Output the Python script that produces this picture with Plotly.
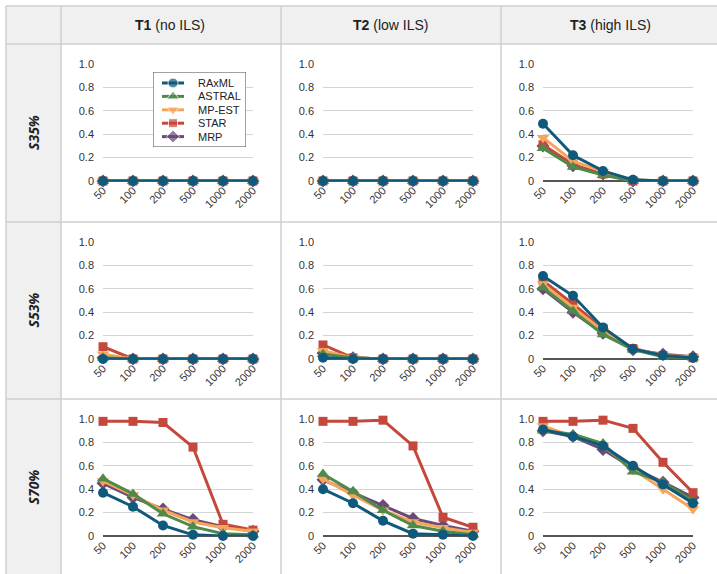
import plotly.graph_objects as go

# ---------------- data ----------------
genes = ["50", "100", "200", "500", "1000", "2000"]
methods = ["RAxML", "ASTRAL", "MP-EST", "STAR", "MRP"]
col_titles = ["T1", "T2", "T3"]
col_sub = ["no ILS", "low ILS", "high ILS"]
row_titles = ["S35%", "S53%", "S70%"]

# S35%
s35_t1_raxml = [0, 0, 0, 0, 0, 0]
s35_t1_astral = [0, 0, 0, 0, 0, 0]
s35_t1_mpest = [0, 0, 0, 0, 0, 0]
s35_t1_star = [0, 0, 0, 0, 0, 0]
s35_t1_mrp = [0, 0, 0, 0, 0, 0]

s35_t2_raxml = [0, 0, 0, 0, 0, 0]
s35_t2_astral = [0, 0, 0, 0, 0, 0]
s35_t2_mpest = [0, 0, 0, 0, 0, 0]
s35_t2_star = [0, 0, 0, 0, 0, 0]
s35_t2_mrp = [0, 0, 0, 0, 0, 0]

s35_t3_raxml = [0.49, 0.22, 0.086, 0.01, 0, 0]
s35_t3_astral = [0.28, 0.12, 0.05, 0, 0, 0]
s35_t3_mpest = [0.37, 0.17, 0.08, 0.01, 0, 0]
s35_t3_star = [0.31, 0.14, 0.06, 0, 0, 0]
s35_t3_mrp = [0.30, 0.13, 0.06, 0, 0, 0]

# S53%
s53_t1_raxml = [0, 0, 0, 0, 0, 0]
s53_t1_astral = [0.01, 0, 0, 0, 0, 0]
s53_t1_mpest = [0.04, 0, 0, 0, 0, 0]
s53_t1_star = [0.105, 0, 0, 0, 0, 0]
s53_t1_mrp = [0.01, 0, 0, 0, 0, 0]

s53_t2_raxml = [0.01, 0, 0, 0, 0, 0]
s53_t2_astral = [0.04, 0.01, 0, 0, 0, 0]
s53_t2_mpest = [0.07, 0.01, 0, 0, 0, 0]
s53_t2_star = [0.12, 0.01, 0, 0, 0, 0]
s53_t2_mrp = [0.05, 0.01, 0, 0, 0, 0]

s53_t3_raxml = [0.71, 0.54, 0.27, 0.086, 0.03, 0.01]
s53_t3_astral = [0.61, 0.41, 0.21, 0.08, 0.02, 0.01]
s53_t3_mpest = [0.64, 0.44, 0.24, 0.09, 0.03, 0.02]
s53_t3_star = [0.67, 0.47, 0.26, 0.09, 0.03, 0.01]
s53_t3_mrp = [0.60, 0.40, 0.22, 0.08, 0.04, 0.02]

# S70%
s70_t1_raxml = [0.37, 0.25, 0.09, 0.01, 0, 0]
s70_t1_astral = [0.49, 0.36, 0.19, 0.08, 0.02, 0.01]
s70_t1_mpest = [0.47, 0.35, 0.22, 0.12, 0.07, 0.04]
s70_t1_star = [0.98, 0.98, 0.97, 0.76, 0.10, 0.05]
s70_t1_mrp = [0.45, 0.33, 0.23, 0.14, 0.08, 0.04]

s70_t2_raxml = [0.40, 0.28, 0.13, 0.02, 0.01, 0]
s70_t2_astral = [0.53, 0.38, 0.22, 0.09, 0.04, 0.01]
s70_t2_mpest = [0.49, 0.35, 0.22, 0.12, 0.07, 0.03]
s70_t2_star = [0.98, 0.98, 0.99, 0.77, 0.16, 0.075]
s70_t2_mrp = [0.48, 0.37, 0.26, 0.15, 0.09, 0.04]

s70_t3_raxml = [0.91, 0.85, 0.77, 0.60, 0.44, 0.28]
s70_t3_astral = [0.90, 0.87, 0.79, 0.55, 0.46, 0.30]
s70_t3_mpest = [0.94, 0.85, 0.77, 0.57, 0.40, 0.23]
s70_t3_star = [0.98, 0.98, 0.99, 0.92, 0.63, 0.37]
s70_t3_mrp = [0.90, 0.85, 0.74, 0.58, 0.46, 0.33]

grid_data = [
    [[s35_t1_raxml, s35_t1_astral, s35_t1_mpest, s35_t1_star, s35_t1_mrp],
     [s35_t2_raxml, s35_t2_astral, s35_t2_mpest, s35_t2_star, s35_t2_mrp],
     [s35_t3_raxml, s35_t3_astral, s35_t3_mpest, s35_t3_star, s35_t3_mrp]],
    [[s53_t1_raxml, s53_t1_astral, s53_t1_mpest, s53_t1_star, s53_t1_mrp],
     [s53_t2_raxml, s53_t2_astral, s53_t2_mpest, s53_t2_star, s53_t2_mrp],
     [s53_t3_raxml, s53_t3_astral, s53_t3_mpest, s53_t3_star, s53_t3_mrp]],
    [[s70_t1_raxml, s70_t1_astral, s70_t1_mpest, s70_t1_star, s70_t1_mrp],
     [s70_t2_raxml, s70_t2_astral, s70_t2_mpest, s70_t2_star, s70_t2_mrp],
     [s70_t3_raxml, s70_t3_astral, s70_t3_mpest, s70_t3_star, s70_t3_mrp]],
]

y_ticks = [0, 0.2, 0.4, 0.6, 0.8, 1.0]
y_tick_text = ["0", "0.2", "0.4", "0.6", "0.8", "1.0"]

# ---------------- styles ----------------
colors = ["#0f5a7c", "#4f8a4a", "#f7a55c", "#c4483b", "#6b4b76"]
symbols = ["circle", "triangle-up", "triangle-down", "square", "diamond"]
msizes = [10, 11, 11, 9, 10]

W, H = 717, 574
col_x = [61, 281, 501, 721]
row_y = [44, 222, 399, 576]
TOP = 6
LEFT = 6


def px(x):
    return x / W


def py(y):
    return 1 - y / H


fig = go.Figure()
font_fam = "Liberation Sans, Arial, sans-serif"

for r in range(3):
    for c in range(3):
        idx = r * 3 + c + 1
        xa = "x" if idx == 1 else f"x{idx}"
        ya = "y" if idx == 1 else f"y{idx}"
        series = grid_data[r][c]
        for m in reversed(range(5)):
            fig.add_trace(go.Scatter(
                x=genes, y=series[m], name=methods[m],
                mode="lines+markers",
                line=dict(color=colors[m], width=3),
                marker=dict(color=colors[m], symbol=symbols[m], size=msizes[m]),
                cliponaxis=False, showlegend=False,
                xaxis=xa, yaxis=ya,
            ))
        x0 = col_x[c] + 42
        x1 = col_x[c] + 192
        ytop = row_y[r] + 20
        ybot = row_y[r] + 137
        fig.layout["xaxis" if idx == 1 else f"xaxis{idx}"] = dict(
            domain=[px(x0), px(x1)], anchor=ya, type="category",
            range=[0, 5], tickangle=-45, showgrid=False, showline=False,
            ticks="", automargin=False,
            tickfont=dict(size=11, color="#333", family=font_fam),
            fixedrange=True,
        )
        fig.layout["yaxis" if idx == 1 else f"yaxis{idx}"] = dict(
            domain=[py(ybot), py(ytop)], anchor=xa, range=[0, 1.0],
            tickvals=y_ticks, ticktext=y_tick_text, showgrid=True,
            gridcolor="#d4d4d4", gridwidth=1, zeroline=True,
            zerolinecolor="#555", zerolinewidth=1.5, showline=False,
            ticks="", ticklabelstandoff=8, automargin=False,
            tickfont=dict(size=11, color="#333", family=font_fam),
            fixedrange=True,
        )

# ---------------- legend (drawn in its own small subplot, pixel units) ----------------
LG_X0, LG_X1, LG_Y0, LG_Y1 = 153, 246, 72, 147
legend_rows = [11, 24.4, 37.8, 51.2, 64.6]
fig.layout["xaxis10"] = dict(domain=[px(LG_X0), px(LG_X1)], range=[0, LG_X1 - LG_X0],
                             visible=False, fixedrange=True, anchor="y10")
fig.layout["yaxis10"] = dict(domain=[py(LG_Y1), py(LG_Y0)], range=[LG_Y1 - LG_Y0, 0],
                             visible=False, fixedrange=True, anchor="x10")
# white box as a filled trace so it sits above panel-1 gridlines
fig.add_trace(go.Scatter(
    x=[0, LG_X1 - LG_X0, LG_X1 - LG_X0, 0, 0], y=[0, 0, LG_Y1 - LG_Y0, LG_Y1 - LG_Y0, 0],
    mode="lines", fill="toself", fillcolor="white", line=dict(color="#444", width=1),
    hoverinfo="skip", showlegend=False, xaxis="x10", yaxis="y10", cliponaxis=False))
annotations = []
for m in range(5):
    yy = legend_rows[m]
    fig.add_trace(go.Scatter(
        x=[9, 20, 31], y=[yy, yy, yy], mode="lines+markers",
        line=dict(color=colors[m], width=3),
        marker=dict(color=colors[m], symbol=symbols[m], size=[0, msizes[m], 0]),
        hoverinfo="skip", showlegend=False, xaxis="x10", yaxis="y10", cliponaxis=False))
    annotations.append(dict(
        xref="x10", yref="y10", x=43, y=yy, text=methods[m], showarrow=False,
        xanchor="left", yanchor="middle",
        font=dict(size=11, color="#222", family=font_fam)))

shapes = []
bg = "#f0f0f0"
border = "#cfcfcf"
shapes.append(dict(type="rect", xref="paper", yref="paper", x0=px(LEFT), x1=1,
                   y0=py(row_y[0]), y1=py(TOP), fillcolor=bg, line_width=0, layer="below"))
shapes.append(dict(type="rect", xref="paper", yref="paper", x0=px(LEFT), x1=px(col_x[0]),
                   y0=0, y1=py(row_y[0]), fillcolor=bg, line_width=0, layer="below"))
for y in [TOP] + row_y[:3]:
    shapes.append(dict(type="line", xref="paper", yref="paper", x0=px(LEFT), x1=1,
                       y0=py(y), y1=py(y), line=dict(color=border, width=1.5), layer="below"))
for x in [LEFT] + col_x[:3]:
    shapes.append(dict(type="line", xref="paper", yref="paper", x0=px(x), x1=px(x),
                       y0=0, y1=py(TOP), line=dict(color=border, width=1.5), layer="below"))

for c in range(3):
    annotations.append(dict(
        xref="paper", yref="paper", x=px((col_x[c] + col_x[c + 1] - 2) / 2), y=py(25),
        text=f"<b>{col_titles[c]}</b> ({col_sub[c]})", showarrow=False,
        font=dict(size=14, color="#222", family=font_fam), xanchor="center", yanchor="middle"))
for r in range(3):
    annotations.append(dict(
        xref="paper", yref="paper", x=px(33), y=py((row_y[r] + row_y[r + 1]) / 2),
        text=f"<b><i>{row_titles[r]}</i></b>", showarrow=False, textangle=-90,
        font=dict(size=14, color="#222", family="Open Sans, sans-serif"),
        xanchor="center", yanchor="middle"))

fig.update_layout(
    width=W, height=H, margin=dict(l=0, r=0, t=0, b=0, pad=0, autoexpand=False),
    paper_bgcolor="white", plot_bgcolor="rgba(0,0,0,0)",
    shapes=shapes, annotations=annotations,
    showlegend=False,
)

fig.write_html("out.html")
